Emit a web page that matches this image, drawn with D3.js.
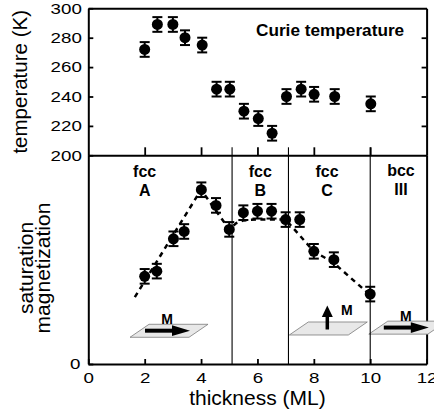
<!DOCTYPE html>
<html>
<head>
<meta charset="utf-8">
<script src="https://cdn.jsdelivr.net/npm/d3@7"></script>
<style>
  html, body { margin: 0; padding: 0; background: #fff; }
  svg { display: block; font-family: "Liberation Sans", Arial, sans-serif; }
</style>
</head>
<body>
<div id="chart"></div>
<script>
// Curie temperature panel
const tcThickness = [2.0, 2.45, 3.0, 3.43, 4.04, 4.55, 5.02, 5.52, 6.03, 6.52, 7.03, 7.55, 8.01, 8.74, 10.02];
const curieTemp   = [272, 289, 289, 280, 275, 245, 245, 230, 225, 215, 240, 245, 241.5, 240, 235];
const tcError = 5;

// saturation magnetization panel (arb. units)
const msThickness = [2.0, 2.43, 3.02, 3.4, 4.01, 4.53, 5.0, 5.5, 6.0, 6.5, 7.0, 7.5, 8.0, 8.71, 10.0];
const magnetization = [42, 44.5, 60, 63.5, 83.5, 76, 64.5, 72.5, 73.2, 73.2, 69.2, 69.2, 54, 50, 33.5];
const msError = 3.5;

// dashed guide line
const guideX = [1.65, 4.0, 5.0, 5.25, 5.5, 6.0, 7.0, 8.0, 8.7, 10.0];
const guideY = [32, 83.5, 64.5, 67.5, 68.8, 69.3, 69.2, 54, 48.5, 33];

// phase boundaries and names
const boundaries = [5.1, 7.1, 10];
const phaseTop = ["fcc", "fcc", "fcc", "bcc"];
const phaseBottom = ["A", "B", "C", "III"];

// tick labels
const tcTicks = [200, 220, 240, 260, 280, 300];
const xTicks = [0, 2, 4, 6, 8, 10, 12];

const W = 434, H = 416;
const svg = d3.select("#chart").append("svg")
    .attr("width", W)
    .attr("height", H);

const x = d3.scaleLinear().domain([0, 12]).range([88.3, 426.6]);
const yT = d3.scaleLinear().domain([200, 300]).range([155.3, 8.3]);
const yM = d3.scaleLinear().domain([0, 100]).range([364, 155.3]);

const TICK_SX = 1.25;

function styleAxis(g, sx) {
    g.select(".domain").attr("stroke", "#000").attr("stroke-width", 2);
    g.selectAll(".tick line").attr("stroke", "#000").attr("stroke-width", 1.8);
    g.selectAll(".tick text")
        .attr("fill", "#000")
        .style("font-size", "15px")
        .style("font-family", "'Liberation Sans', Arial, sans-serif")
        .each(function () {
            const t = d3.select(this);
            const tx = +t.attr("x") || 0;
            t.attr("x", tx / sx).attr("transform", `scale(${sx},1)`);
        });
}

// ---- axes / frame ----
svg.append("g")
    .attr("transform", `translate(${x(0)},0)`)
    .call(d3.axisLeft(yT).tickValues(tcTicks).tickSizeInner(-5).tickSizeOuter(0).tickPadding(6.5))
    .call(g => styleAxis(g, TICK_SX));

svg.append("g")
    .attr("transform", `translate(${x(0)},0)`)
    .call(d3.axisLeft(yM).tickValues([0]).tickSizeInner(-5).tickSizeOuter(0).tickPadding(8))
    .call(g => styleAxis(g, TICK_SX));

svg.append("g")
    .attr("transform", `translate(${x(12)},0)`)
    .call(d3.axisRight(yT).tickValues([220, 240, 260, 280]).tickSizeInner(-5).tickSizeOuter(0).tickFormat(""))
    .call(g => styleAxis(g, TICK_SX));

svg.append("g")
    .attr("transform", `translate(${x(12)},0)`)
    .call(d3.axisRight(yM).tickValues([]).tickSizeOuter(0))
    .call(g => styleAxis(g, TICK_SX));

svg.append("g")
    .attr("transform", `translate(0,${yT(300)})`)
    .call(d3.axisTop(x).tickValues([]).tickSizeOuter(0))
    .call(g => styleAxis(g, TICK_SX));

svg.append("g")
    .attr("transform", `translate(0,${yT(200)})`)
    .call(d3.axisBottom(x).tickValues([2, 4, 6, 8, 10]).tickSizeInner(-8).tickSizeOuter(0).tickFormat(""))
    .call(g => styleAxis(g, TICK_SX));

svg.append("g")
    .attr("transform", `translate(0,${yM(0)})`)
    .call(d3.axisBottom(x).tickValues(xTicks).tickSizeInner(-5).tickSizeOuter(0).tickPadding(8))
    .call(g => styleAxis(g, TICK_SX));

// ---- axis titles ----
svg.append("text")
    .attr("transform", `translate(27,${(yT(200) + yT(300)) / 2}) rotate(-90)`)
    .attr("text-anchor", "middle")
    .style("font-size", "20.5px")
    .text("temperature (K)");

const msTitle = svg.append("text")
    .attr("transform", `translate(33,268) rotate(-90)`)
    .attr("text-anchor", "middle")
    .style("font-size", "21px");
msTitle.append("tspan").attr("x", 0).attr("y", 0).text("saturation");
msTitle.append("tspan").attr("x", 0).attr("y", 16.5).text("magnetization");

svg.append("text")
    .attr("x", (x(0) + x(12)) / 2)
    .attr("y", 405)
    .attr("text-anchor", "middle")
    .style("font-size", "21px")
    .text("thickness (ML)");

svg.append("text")
    .attr("transform", `translate(256,36) scale(1.075,1)`)
    .style("font-size", "16px")
    .style("font-weight", "bold")
    .text("Curie temperature");

// ---- magnetization icons ----
const panes = [
    { x: 1.48, y: 12.8, dir: "right" },
    { x: 7.13, y: 13.9, dir: "up" },
    { x: 9.95, y: 14.3, dir: "right" }
];
panes.forEach(p => {
    const g = svg.append("g").attr("transform", `translate(${x(p.x)},${yM(p.y)})`);
    g.append("path")
        .attr("d", "M0,0 L59,0 L78,-13 L19,-13 Z")
        .attr("fill", "#e8e8e8")
        .attr("stroke", "#7a7a7a")
        .attr("stroke-width", 0.8);
    if (p.dir === "right") {
        g.append("line")
            .attr("x1", 15).attr("x2", 44)
            .attr("y1", -6.6).attr("y2", -6.6)
            .attr("stroke", "#000").attr("stroke-width", 4);
        g.append("path")
            .attr("d", "M42,-12 L60,-6.6 L42,-1.2 Z")
            .attr("fill", "#000");
        g.append("text")
            .attr("x", 37).attr("y", -13.5)
            .attr("text-anchor", "middle")
            .style("font-size", "14px").style("font-weight", "bold")
            .text("M");
    } else {
        g.append("line")
            .attr("x1", 38).attr("x2", 38)
            .attr("y1", -5.5).attr("y2", -20)
            .attr("stroke", "#000").attr("stroke-width", 3.5);
        g.append("path")
            .attr("d", "M32.5,-18 L38,-29.5 L43.5,-18 Z")
            .attr("fill", "#000");
        g.append("text")
            .attr("x", 57.5).attr("y", -20)
            .attr("text-anchor", "middle")
            .style("font-size", "14px").style("font-weight", "bold")
            .text("M");
    }
});

// ---- phase boundaries ----
svg.selectAll(".boundary")
    .data(boundaries)
    .enter()
    .append("line")
    .attr("class", "boundary")
    .attr("x1", d => x(d)).attr("x2", d => x(d))
    .attr("y1", yM(0)).attr("y2", yT(200) - 8)
    .attr("stroke", "#000")
    .attr("stroke-width", 1.1);

const phaseX = [2.0, 6.1, 8.47, 11.09];
phaseTop.forEach((name, i) => {
    const dy = i === 3 ? -1.5 : 0;
    svg.append("text")
        .attr("x", x(phaseX[i])).attr("y", 177 + dy)
        .attr("text-anchor", "middle")
        .style("font-size", "16px").style("font-weight", "bold")
        .text(name);
    svg.append("text")
        .attr("x", x(phaseX[i])).attr("y", 196 + dy)
        .attr("text-anchor", "middle")
        .style("font-size", "16px").style("font-weight", "bold")
        .text(phaseBottom[i]);
});

// ---- dashed guide ----
const guide = guideX.map((d, i) => [d, guideY[i]]);
svg.append("path")
    .datum(guide)
    .attr("fill", "none")
    .attr("stroke", "#000")
    .attr("stroke-width", 2.5)
    .attr("stroke-dasharray", "5,4.5")
    .attr("d", d3.line().x(d => x(d[0])).y(d => yM(d[1])));

// ---- points with error bars ----
function drawSeries(xs, ys, err, yScale) {
    const pts = xs.map((d, i) => ({ t: d, v: ys[i] }));
    const g = svg.append("g");
    const bars = g.selectAll(".err").data(pts).enter().append("g");
    bars.append("line")
        .attr("x1", d => x(d.t)).attr("x2", d => x(d.t))
        .attr("y1", d => yScale(d.v - err)).attr("y2", d => yScale(d.v + err))
        .attr("stroke", "#000").attr("stroke-width", 2);
    [-1, 1].forEach(s => {
        bars.append("line")
            .attr("x1", d => x(d.t) - 5).attr("x2", d => x(d.t) + 5)
            .attr("y1", d => yScale(d.v + s * err)).attr("y2", d => yScale(d.v + s * err))
            .attr("stroke", "#000").attr("stroke-width", 2);
    });
    g.selectAll("circle").data(pts).enter().append("circle")
        .attr("cx", d => x(d.t))
        .attr("cy", d => yScale(d.v))
        .attr("r", 5.5)
        .attr("fill", "#000");
}
drawSeries(tcThickness, curieTemp, tcError, yT);
drawSeries(msThickness, magnetization, msError, yM);
</script>
</body>
</html>
